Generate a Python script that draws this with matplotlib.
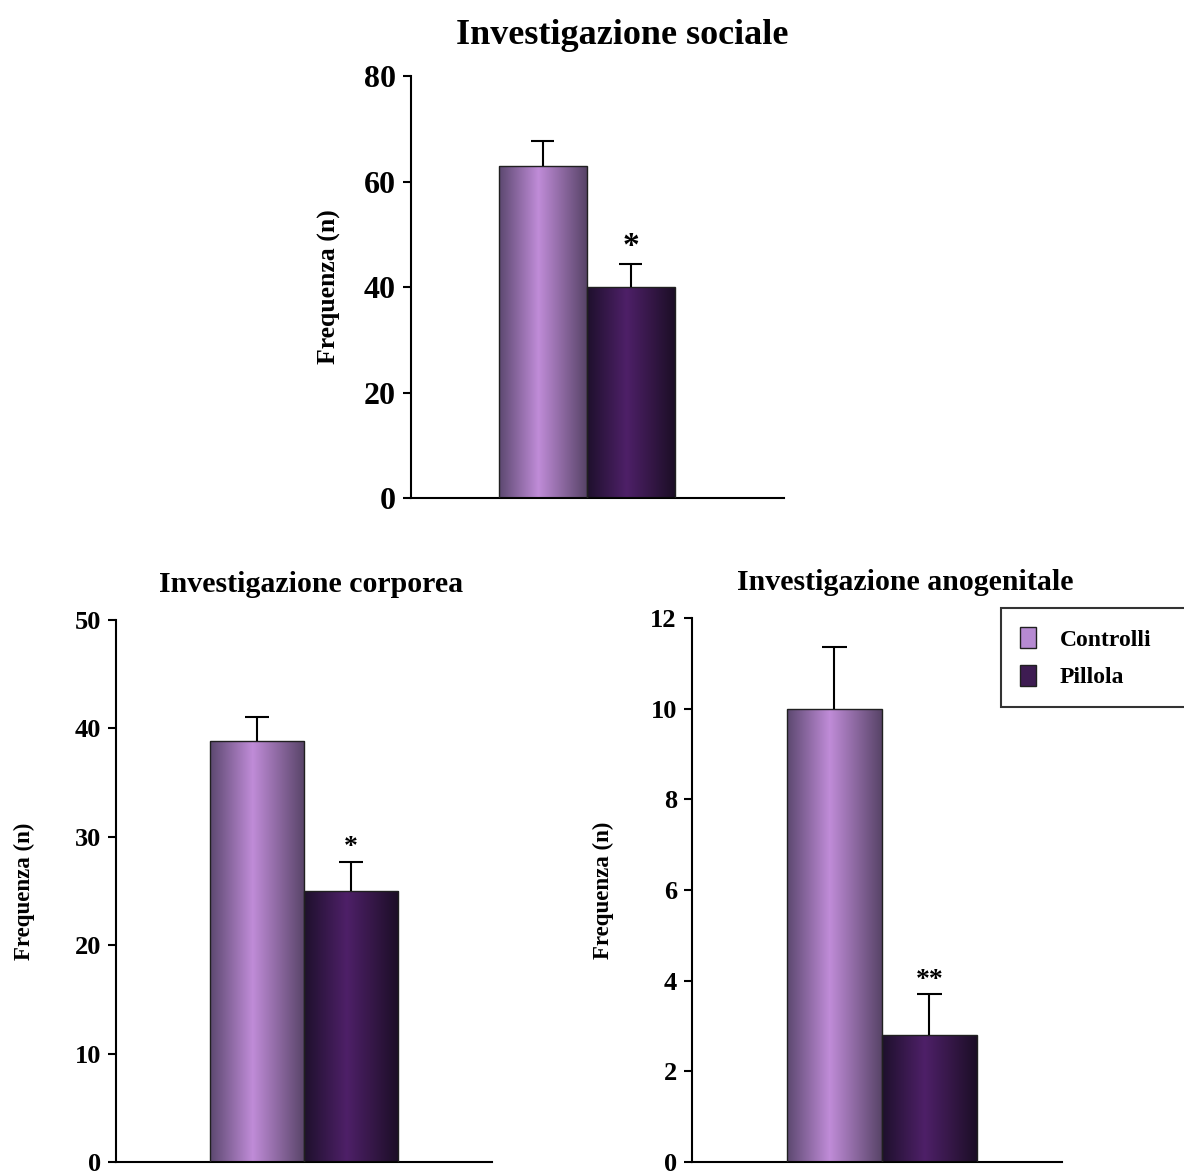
import matplotlib.pyplot as plt
import numpy as np
from matplotlib.patches import Patch

plt.rcParams['font.family'] = ['Liberation Serif', 'DejaVu Serif']
plt.rcParams['font.weight'] = 'bold'

# dati
gruppi = ["Controlli", "Pillola"]

sociale = [63.0, 40.0]
sociale_err = [4.7, 4.4]

corporea = [38.8, 25.0]
corporea_err = [2.2, 2.7]

anogenitale = [10.0, 2.8]
anogenitale_err = [1.35, 0.9]

# colori sfumati (bordo sx, centro, bordo dx)
stop_t = [0.0, 0.45, 1.0]
sfumature = [
    [(92, 72, 112), (192, 140, 216), (88, 68, 104)],
    [(30, 16, 44), (78, 32, 104), (28, 14, 38)],
]
colori_legenda = ['#b68ad2', '#3e1c52']


def gradiente(stops):
    t = np.linspace(0, 1, 200)
    arr = np.zeros((1, 200, 3))
    for c in range(3):
        arr[0, :, c] = np.interp(t, stop_t, [s[c] / 255. for s in stops])
    return arr


def grafico(ax, valori, errori, stella, xmax, ymax, passo, titolo,
            fs_tick, fs_tit, fs_lab, pad_tit, fs_stella, x_tit):
    pos = [1.0, 2.0]
    barre = ax.bar(pos, valori, width=1.0, align='edge',
                   facecolor='none', edgecolor='#202020', linewidth=1.0, zorder=3)
    for b, sf in zip(barre, sfumature):
        x0 = b.get_x()
        im = ax.imshow(gradiente(sf), extent=[x0, x0 + b.get_width(), 0, b.get_height()],
                       aspect='auto', zorder=2, interpolation='bilinear')
        im.set_clip_path(b)
    centri = np.array(pos) + 0.5
    cime = np.array(valori) + np.array(errori)
    # solo barra d'errore superiore
    ax.vlines(centri, valori, cime, colors='black', linewidth=1.5, zorder=4)
    ax.hlines(cime, centri - 0.13, centri + 0.13, colors='black', linewidth=1.5, zorder=4)
    ax.annotate(stella, (centri[1], cime[1]), xytext=(0, 1),
                textcoords='offset points', ha='center', va='bottom',
                fontsize=fs_stella, fontweight='bold')
    ax.set_xlim(0, xmax)
    ax.set_ylim(0, ymax)
    ax.set_yticks(np.arange(0, ymax + passo / 2, passo))
    ax.set_xticks([])
    for s in ['top', 'right']:
        ax.spines[s].set_visible(False)
    ax.spines['left'].set_linewidth(1.5)
    ax.spines['bottom'].set_linewidth(1.5)
    ax.tick_params(axis='y', direction='out', length=6, width=1.5,
                   labelsize=fs_tick, pad=5)
    for lab in ax.get_yticklabels():
        lab.set_fontweight('bold')
    ax.set_title(titolo, fontsize=fs_tit, fontweight='bold', pad=pad_tit, x=x_tit)
    ax.set_ylabel("Frequenza (n)", fontsize=fs_lab, fontweight='bold')


fig = plt.figure(figsize=(11.84, 11.71), dpi=100)

ax1 = fig.add_axes([0.347, 0.5747, 0.315, 0.3604])
grafico(ax1, sociale, sociale_err, "*", 4.24, 80, 20, "Investigazione sociale",
        23, 26, 18.5, 23, 24, 0.566)
ax1.yaxis.labelpad = 16

ax2 = fig.add_axes([0.098, 0.0077, 0.3176, 0.4629])
grafico(ax2, corporea, corporea_err, "*", 4.0, 50, 10, "Investigazione corporea",
        19, 21.5, 16.5, 20, 20, 0.519)
ax2.yaxis.labelpad = 28

ax3 = fig.add_axes([0.5845, 0.0077, 0.3125, 0.4646])
grafico(ax3, anogenitale, anogenitale_err, "**", 3.9, 12, 2, "Investigazione anogenitale",
        19, 21.5, 16.5, 20, 20, 0.576)
ax3.yaxis.labelpad = 26

maniglie = [Patch(facecolor=c, edgecolor='#202020', label=g)
            for c, g in zip(colori_legenda, gruppi)]
leg = fig.legend(handles=maniglie, loc='upper left', mode='expand',
                 bbox_to_anchor=(1001 / 1184, 1 - 708 / 1171, 0.2, 100 / 1171),
                 fancybox=False, frameon=True, edgecolor='black',
                 prop={'size': 17, 'weight': 'bold'},
                 handlelength=0.7, handleheight=1.0, handletextpad=1.0,
                 borderpad=0.8, labelspacing=0.6, borderaxespad=0)
leg.get_frame().set_linewidth(1.5)

fig.savefig("out.png", dpi=100)
